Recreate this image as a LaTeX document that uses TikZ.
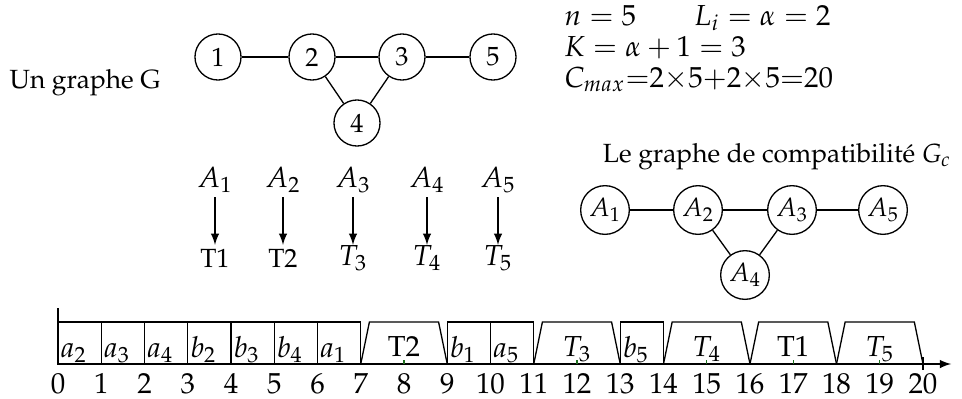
\documentclass[tikz,border=0pt]{standalone}
\usepackage[T1]{fontenc}
\usepackage{mathpazo}
\usetikzlibrary{arrows}
\definecolor{tickgreen}{RGB}{30,110,30}
\tikzset{
  vtx/.style={circle,draw,line width=0.5pt,minimum size=17.5pt,inner sep=0pt},
  edge/.style={line width=0.5pt},
  arr/.style={-latex,line width=0.5pt},
  cell/.style={line width=0.5pt},
  lab/.style={inner sep=0pt},
  mlab/.style={inner sep=0pt,font=\fontsize{11}{13}\selectfont},
  mtick/.style={tickgreen,line width=0.5pt}
}
\begin{document}
\begin{tikzpicture}[x=0.38pt,y=-0.38pt]
\useasboundingbox (0,0) rectangle (962,398);
% Graph G
\node[lab] (title) at (85,83) {Un graphe G};
\node[vtx] (g1) at (218,57) {1};
\node[vtx] (g2) at (312,57) {2};
\node[vtx] (g3) at (402,57) {3};
\node[vtx] (g5) at (493,57) {5};
\node[vtx] (g4) at (357,123) {4};
\draw[edge] (g1) -- (g2);
\draw[edge] (g2) -- (g3);
\draw[edge] (g3) -- (g5);
\draw[edge] (g2) -- (g4);
\draw[edge] (g3) -- (g4);
% parameters
\node[mlab,anchor=base west] (p1) at (564,25) {$n=5\qquad L_i=\alpha=2$};
\node[mlab,anchor=base west] (p2) at (564,56) {$K=\alpha+1=3$};
\node[mlab,anchor=base west] (p3) at (564,87) {$C_{max}{=}2{\times}5{+}2{\times}5{=}20$};
% mapping A -> T
\node[mlab] (a1) at (215,180) {$A_1$};
\node[mlab] (a2) at (283,180) {$A_2$};
\node[mlab] (a3) at (353,180) {$A_3$};
\node[mlab] (a4) at (427,180) {$A_4$};
\node[mlab] (a5) at (498,180) {$A_5$};
\node[lab] (t1) at (215,258) {T1};
\node[lab] (t2) at (283,258) {T2};
\node[mlab] (t3) at (353,258) {$T_3$};
\node[mlab] (t4) at (427,258) {$T_4$};
\node[mlab] (t5) at (498,258) {$T_5$};
\foreach \i in {1,...,5}{
  \draw[arr] ([yshift=-6.5pt]a\i.center) -- ([yshift=5pt]t\i.center);
}
% compatibility graph
\node[lab] (gctitle) at (777,157) {Le graphe de compatibilit\'e $G_c$};
\node[vtx,minimum size=18.5pt] (c1) at (605,210) {$A_1$};
\node[vtx,minimum size=18.5pt] (c2) at (698,210) {$A_2$};
\node[vtx,minimum size=18.5pt] (c3) at (792,210) {$A_3$};
\node[vtx,minimum size=18.5pt] (c5) at (883,210) {$A_5$};
\node[vtx,minimum size=18.5pt] (c4) at (745,275) {$A_4$};
\draw[edge] (c1) -- (c2);
\draw[edge] (c2) -- (c3);
\draw[edge] (c3) -- (c5);
\draw[edge] (c2) -- (c4);
\draw[edge] (c3) -- (c4);
% timeline
\begin{scope}[shift={(58,364)},x=16.435pt,y=0.38pt]
  \coordinate (o) at (0,0);
  \coordinate (otop) at (0,56);
  \coordinate (oend) at (20.65,0);
  \draw[edge] (otop) -- (o);
  \draw[arr] (o) -- (oend);
  \foreach \s/\l [count=\k] in {0/a_2,1/a_3,2/a_4,3/b_2,4/b_3,5/b_4,6/a_1,9/b_1,10/a_5,13/b_5}{
    \draw[cell] (\s,0) rectangle (\s+1,42);
    \node[mlab,anchor=base west] (box\k) at (\s+0.05,7) {$\l$};
  }
  \foreach \s/\m/\l [count=\k] in {7/8/\textrm{T2},11/12/T_3,14/15/T_4,16/17/\textrm{T1},18/19/T_5}{
    \draw[cell] (\s,0) -- (\s+0.2,42) -- (\s+1.8,42) -- (\s+2,0);
    \draw[mtick] (\m,0) -- (\m,4.5);
    \node[mlab,anchor=base] (tr\k) at (\m,8) {$\l$};
  }
  \draw[edge] (20,7) -- (20,-6);
  \foreach \n in {0,...,20}{
    \node[mlab] (num\n) at (\n,-20) {\n};
  }
\end{scope}
\end{tikzpicture}
\end{document}
